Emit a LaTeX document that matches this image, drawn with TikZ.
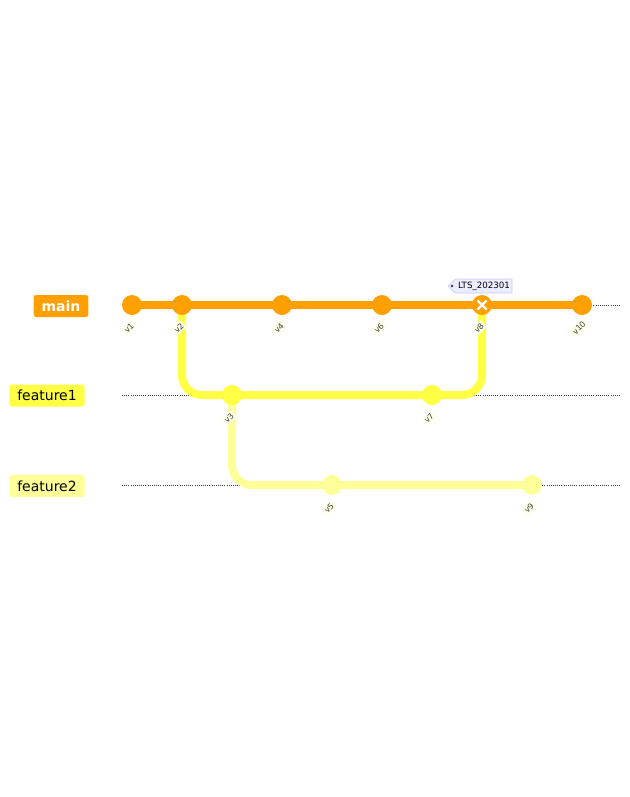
\documentclass[tikz,border=0pt]{standalone}
\usepackage{fontspec}
\setmainfont{DejaVu Sans}
\usetikzlibrary{positioning,calc,backgrounds}
\definecolor{MainOrange}{HTML}{FFA000}
\definecolor{FeatOne}{HTML}{FFFF44}
\definecolor{FeatTwo}{HTML}{FFFF99}
\definecolor{TagFill}{HTML}{ECECFF}
\definecolor{TagLine}{HTML}{C8C8F0}
\definecolor{LabelBg}{HTML}{FFFFE8}
\tikzset{
  branchlbl/.style={rounded corners=2pt, inner xsep=6pt, minimum height=16.5pt, font=\fontsize{10.5}{12}\selectfont},
  lane/.style={densely dotted, line width=0.6pt, draw=black!75},
  branchline/.style={line width=6pt, rounded corners=15pt},
  commit/.style={circle, minimum size=15pt, inner sep=0pt},
  clabel/.style={rotate=45, fill=LabelBg, inner sep=1.2pt, font=\fontsize{6}{7}\selectfont, text=black!75}
}
\begin{document}
\begin{tikzpicture}[x=0.75pt, y=-0.75pt]
    \useasboundingbox (0,0) rectangle (630,797);

    % branch names
    \node[branchlbl, fill=MainOrange, text=white, font=\fontsize{10.5}{12}\selectfont\bfseries] (bmain) at (61,306) {main};
    \node[branchlbl, fill=FeatOne] (bf1) at (47,395.5) {feature1};
    \node[branchlbl, fill=FeatTwo] (bf2) at (47,486) {feature2};

    % commits
    \node[commit, fill=MainOrange] (v1) at (132,305) {};
    \node[commit, fill=MainOrange] (v2) at (182,305) {};
    \node[commit, fill=FeatOne] (v3) at (232,395) {};
    \node[commit, fill=MainOrange] (v4) at (282,305) {};
    \node[commit, fill=FeatTwo] (v5) at (332,485) {};
    \node[commit, fill=MainOrange] (v6) at (382,305) {};
    \node[commit, fill=FeatOne] (v7) at (432,395) {};
    \node[commit, fill=MainOrange] (v8) at (482,305) {};
    \node[commit, fill=FeatTwo] (v9) at (532,485) {};
    \node[commit, fill=MainOrange] (v10) at (582,305) {};
    \draw[white, line width=1.8pt] ($(v8)+(-4.5,-4.5)$) -- ($(v8)+(4.5,4.5)$);
    \draw[white, line width=1.8pt] ($(v8)+(-4.5,4.5)$) -- ($(v8)+(4.5,-4.5)$);

    % lanes and branch lines
    \begin{scope}[on background layer]
    \coordinate (lm) at (122,305);
    \coordinate (lmend) at (620,305);
    \coordinate (l1) at (122,395);
    \coordinate (l1end) at (620,395);
    \coordinate (l2) at (122,485);
    \coordinate (l2end) at (620,485);
    \draw[lane] (lm) -- (lmend);
    \draw[lane] (l1) -- (l1end);
    \draw[lane] (l2) -- (l2end);
    \draw[branchline, FeatTwo] (v3.center) |- (v5.center) -- (v9.center);
    \draw[branchline, FeatOne] (v2.center) |- (v3.center) -- (v7.center) -| (v8.center);
    \draw[branchline, MainOrange] (v1.center) -- (v10.center);
    \end{scope}

    % commit labels
    \foreach \c in {v1,v2,v3,v4,v5,v6,v7,v8,v9,v10}
      \node[clabel] (\c lbl) at ($(\c)+(-3,23)$) {\c};

    % tag
    \coordinate (tagc) at (484,286);
    \draw[TagLine, fill=TagFill, line width=0.5pt] ($(tagc)+(-36,0)$) -- ++(7,-7) -- ++(57,0) -- ++(0,14) -- ++(-57,0) -- cycle;
    \fill[black!80] ($(tagc)+(-32,0)$) circle (1pt);
    \node[font=\fontsize{6.5}{7}\selectfont, inner sep=0pt] (tag) at (tagc) {LTS\_202301};
\end{tikzpicture}
\end{document}
